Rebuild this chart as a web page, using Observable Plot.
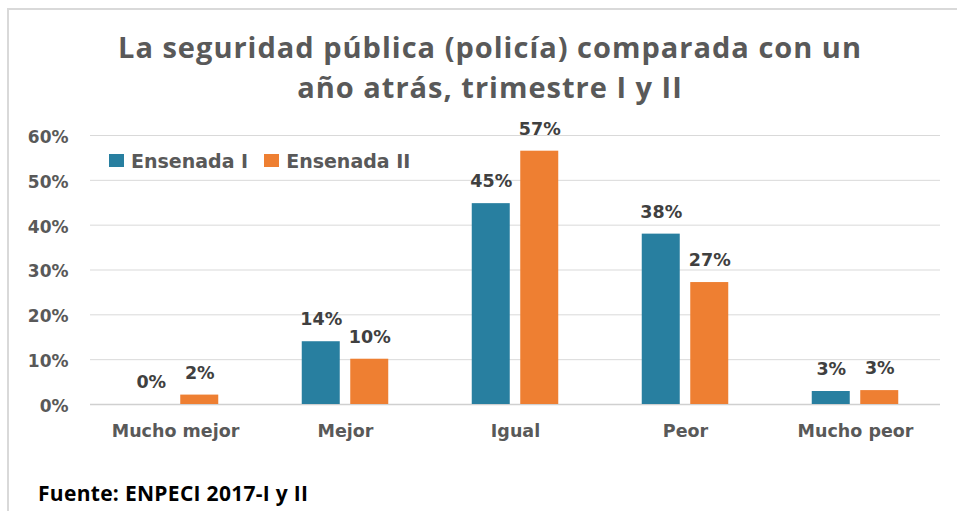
<!DOCTYPE html>
<html>
<head>
<meta charset="utf-8">
<script src="https://cdn.jsdelivr.net/npm/d3@7"></script>
<script src="https://cdn.jsdelivr.net/npm/@observablehq/plot@0.6"></script>
<style>
  body { margin: 0; background: #fff; width: 957px; height: 511px; overflow: hidden; position: relative; }
  #frame { position: absolute; left: 7px; top: 8px; width: 1000px; height: 600px; border-left: 2px solid #d9d9d9; border-top: 2px solid #d9d9d9; }
  #title { position: absolute; left: 20px; width: 940px; top: 27px; text-align: center; font: 700 29px/40px "Open Sans", sans-serif; letter-spacing: 1px; color: #595959; }
  #chart { position: absolute; left: 0; top: 110px; }
  #legend { position: absolute; left: 109px; top: 144px; }
  #legend svg { margin-right: 7px !important; }
  #legend [class$="-swatch"] { margin-right: 16px !important; }
  #footer { position: absolute; left: 38px; top: 483px; font: 700 21px/21px "Open Sans", sans-serif; letter-spacing: 0.3px; color: #000; }
</style>
</head>
<body>
<div id="frame"></div>
<div id="title">La seguridad pública (policía) comparada con un<br>año atrás, trimestre I y II</div>
<div id="chart"></div>
<div id="legend"></div>
<div id="footer">Fuente: ENPECI 2017-I y II</div>
<script>
const categories = ["Mucho mejor", "Mejor", "Igual", "Peor", "Mucho peor"];
const series = ["Ensenada I", "Ensenada II"];
const valuesI = [0, 14, 44.8, 38, 2.9];
const valuesII = [2.1, 10.1, 56.5, 27.2, 3.1];
const yTicks = [0, 10, 20, 30, 40, 50, 60];
const colors = ["#287fa0", "#ee7f32"];

const data = categories.flatMap((c, i) => [
  {cat: c, serie: series[0], v: valuesI[i]},
  {cat: c, serie: series[1], v: valuesII[i]}
]);

const W = 957, mL = 90, mR = 17;
const step = (W - mL - mR) / categories.length;
const barW = 38, half = 24.25;
const insetFor = s => s === series[0]
  ? {insetLeft: step / 2 - half - barW / 2, insetRight: step / 2 + half - barW / 2}
  : {insetLeft: step / 2 + half - barW / 2, insetRight: step / 2 - half - barW / 2};

const dataI = data.filter(d => d.serie === series[0]);
const dataII = data.filter(d => d.serie === series[1]);

const textStyle = {fontFamily: "DejaVu Sans", fontWeight: "bold", fontSize: 17.5, fill: "#404040", lineAnchor: "bottom", dy: -16.5};

const chart = Plot.plot({
  width: W, height: 350,
  marginLeft: mL, marginRight: mR, marginTop: 25, marginBottom: 56,
  x: {domain: categories, padding: 0, label: null},
  y: {domain: [0, 60], label: null},
  color: {domain: series, range: colors},
  style: {background: "transparent", overflow: "visible"},
  marks: [
    Plot.gridY(yTicks, {stroke: "#d9d9d9", strokeOpacity: 1, strokeWidth: 1}),
    Plot.ruleY([0], {stroke: "#d0d0d0", strokeWidth: 1.5}),
    Plot.barY(dataI, {x: "cat", y: "v", fill: "serie", ...insetFor(series[0])}),
    Plot.barY(dataII, {x: "cat", y: "v", fill: "serie", ...insetFor(series[1])}),
    Plot.text(dataI, {x: "cat", y: "v", text: d => Math.round(d.v) + "%", dx: -half, ...textStyle}),
    Plot.text(dataII, {x: "cat", y: "v", text: d => Math.round(d.v) + "%", dx: half, ...textStyle}),
    Plot.axisY(yTicks, {tickSize: 0, tickPadding: 22, tickFormat: d => d + "%", fontFamily: "DejaVu Sans", fontWeight: "bold", fontSize: 17, fill: "#595959", dy: 2, label: null}),
    Plot.axisX({tickSize: 0, tickPadding: 20, fontFamily: "DejaVu Sans", fontWeight: "bold", fontSize: 17.5, fill: "#595959", label: null})
  ]
});
document.getElementById("chart").appendChild(chart);

const legend = Plot.legend({
  color: {domain: series, range: colors},
  legend: "swatches",
  swatchWidth: 15, swatchHeight: 13,
  style: {fontFamily: "DejaVu Sans", fontWeight: "bold", fontSize: "19px", color: "#595959", background: "transparent"}
});
document.getElementById("legend").appendChild(legend);
</script>
</body>
</html>
